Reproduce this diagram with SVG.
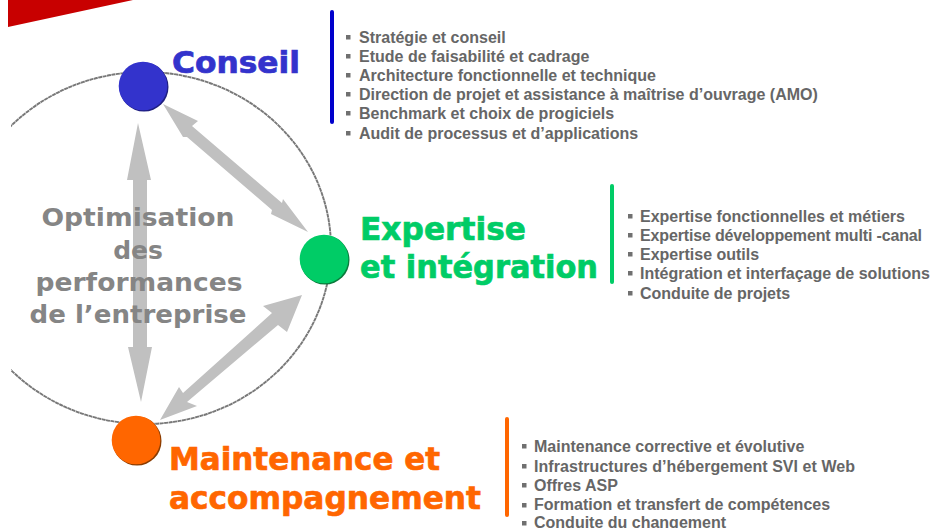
<svg xmlns="http://www.w3.org/2000/svg" width="933" height="528" viewBox="0 0 933 528">
<style>
.t{font-family:"DejaVu Sans",Verdana,sans-serif;font-weight:700;stroke-width:.7px}
.b{font-family:"Liberation Sans",Arial,sans-serif;font-weight:700;font-size:16px;fill:#666}
.o{font-family:"DejaVu Sans",Verdana,sans-serif;font-weight:700;font-size:25px;fill:#858585;text-anchor:middle}
.a{fill:#c0c0c0}
.q{fill:#707070}
</style>
<defs>
<clipPath id="c"><rect x="11" y="0" width="922" height="528"/></clipPath>
</defs>
<rect width="933" height="528" fill="#fff"/>
<polygon points="8,0 133,0 8,27" fill="#c80000"/>
<g id="ring" clip-path="url(#c)"><ellipse cx="145" cy="248" rx="186" ry="176" fill="none" stroke="#787878" stroke-width="1.9" stroke-dasharray="4 .5"/></g>
<g id="connectors">
<polygon class="a" points="138,123 151,180 147,180 147,347 152,347 141,402 128,347 133,347 133,180 127,180"/>
<polygon class="a" points="163,104 198,121 192,126 282,203 283,199 308,232 271,214 272,210 187,137 183,137"/>
<polygon class="a" points="302,295 287,332 278,325 187,402 197,406 160,420 179,387 183,393 272,313 263,306"/>
</g>
<g id="conseil">
<circle cx="144" cy="87" r="24.5" fill="#1f1f80"/>
<circle cx="143" cy="86" r="24.3" fill="#3333cc"/>
<text class="t" x="172" y="73" font-size="30" fill="#3333cc" stroke="#3333cc" textLength="128" lengthAdjust="spacingAndGlyphs">Conseil</text>
<rect x="330" y="10" width="4" height="114" rx="2" fill="#0000cc"/>
</g>
<g id="conseil-list">
<rect class="q" x="346" y="35" width="4.5" height="4.5"/><text class="b" x="359" y="43">Stratégie et conseil</text>
<rect class="q" x="346" y="54" width="4.5" height="4.5"/><text class="b" x="359" y="62">Etude de faisabilité et cadrage</text>
<rect class="q" x="346" y="73" width="4.5" height="4.5"/><text class="b" x="359" y="81">Architecture fonctionnelle et technique</text>
<rect class="q" x="346" y="92" width="4.5" height="4.5"/><text class="b" x="359" y="100">Direction de projet et assistance à maîtrise d’ouvrage (AMO)</text>
<rect class="q" x="346" y="111" width="4.5" height="4.5"/><text class="b" x="359" y="119">Benchmark et choix de progiciels</text>
<rect class="q" x="346" y="131" width="4.5" height="4.5"/><text class="b" x="359" y="139">Audit de processus et d’applications</text>
</g>
<g id="expertise">
<circle cx="325" cy="260" r="24.5" fill="#0b7a3c"/>
<circle cx="324" cy="259" r="24.3" fill="#00cc66"/>
<text class="t" x="360" y="240" font-size="32" fill="#00cc66" stroke="#00cc66" textLength="166" lengthAdjust="spacingAndGlyphs">Expertise</text>
<text class="t" x="360" y="278" font-size="32" fill="#00cc66" stroke="#00cc66" textLength="238" lengthAdjust="spacingAndGlyphs">et intégration</text>
<rect x="610" y="184" width="4" height="100" rx="2" fill="#00cc66"/>
</g>
<g id="expertise-list">
<rect class="q" x="628" y="214" width="4.5" height="4.5"/><text class="b" x="640" y="222">Expertise fonctionnelles et métiers</text>
<rect class="q" x="628" y="233" width="4.5" height="4.5"/><text class="b" x="640" y="241" textLength="282">Expertise développement multi -canal</text>
<rect class="q" x="628" y="252" width="4.5" height="4.5"/><text class="b" x="640" y="260">Expertise outils</text>
<rect class="q" x="628" y="271" width="4.5" height="4.5"/><text class="b" x="640" y="279">Intégration et interfaçage de solutions</text>
<rect class="q" x="628" y="291" width="4.5" height="4.5"/><text class="b" x="640" y="299">Conduite de projets</text>
</g>
<g id="maintenance">
<circle cx="137" cy="441" r="24.5" fill="#8a3c00"/>
<circle cx="136" cy="440" r="24.3" fill="#ff6600"/>
<text class="t" x="169" y="470" font-size="32" fill="#ff6600" stroke="#ff6600" textLength="271" lengthAdjust="spacingAndGlyphs">Maintenance et</text>
<text class="t" x="169" y="509" font-size="32" fill="#ff6600" stroke="#ff6600" textLength="312" lengthAdjust="spacingAndGlyphs">accompagnement</text>
<rect x="505" y="417" width="4" height="100" rx="2" fill="#ff6600"/>
</g>
<g id="maintenance-list">
<rect class="q" x="522" y="444" width="4.5" height="4.5"/><text class="b" x="534" y="452">Maintenance corrective et évolutive</text>
<rect class="q" x="522" y="464" width="4.5" height="4.5"/><text class="b" x="534" y="472" textLength="321">Infrastructures d’hébergement SVI et Web</text>
<rect class="q" x="522" y="483" width="4.5" height="4.5"/><text class="b" x="534" y="491">Offres ASP</text>
<rect class="q" x="522" y="503" width="4.5" height="4.5"/><text class="b" x="534" y="510">Formation et transfert de compétences</text>
<rect class="q" x="522" y="521" width="4.5" height="4.5"/><text class="b" x="534" y="528">Conduite du changement</text>
</g>
<g id="center-label">
<text class="o" x="138" y="226" textLength="193" lengthAdjust="spacingAndGlyphs">Optimisation</text>
<text class="o" x="138" y="259">des</text>
<text class="o" x="139" y="291" textLength="207" lengthAdjust="spacingAndGlyphs">performances</text>
<text class="o" x="138" y="323" textLength="217" lengthAdjust="spacingAndGlyphs">de l’entreprise</text>
</g>
</svg>
